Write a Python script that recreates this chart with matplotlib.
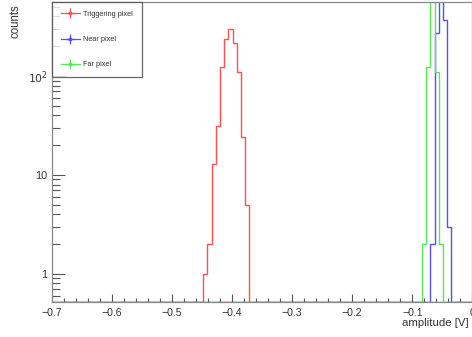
import numpy as np
import matplotlib
matplotlib.use('Agg')
import matplotlib.pyplot as plt
from matplotlib.lines import Line2D
from matplotlib.legend_handler import HandlerTuple
from matplotlib.ticker import MultipleLocator, LogLocator, FuncFormatter, NullFormatter

# histograma de amplitudes, 100 bins entre -0.7 y 0 V
bin_lo, bin_hi, n_bins = -0.7, 0.0, 100

red_first = 36
red_vals = [1, 2, 13, 31, 124, 235, 296, 216, 110, 24, 5]
blue_first = 90
blue_vals = [2, 270, 900, 370, 3]
green_first = 88
green_vals = [2, 124, 900, 110, 2]

labels = ['Triggering pixel', 'Near pixel', 'Far pixel']
colors = ['#ff5050', '#5050ff', '#55e855']

y_min, y_max = 0.52, 560

plt.rcParams['font.family'] = ['Liberation Sans', 'DejaVu Sans']

edges = np.linspace(bin_lo, bin_hi, n_bins + 1)


def full_counts(first, vals):
    c = np.zeros(n_bins)
    c[first:first + len(vals)] = vals
    return np.clip(c, y_min, None)


fig = plt.figure(figsize=(4.72, 3.37), dpi=100)
ax = fig.add_axes([0.1095, 0.104, 0.8915, 0.890])
ax.set_yscale('log')

hists = [(red_first, red_vals), (blue_first, blue_vals), (green_first, green_vals)]
for (first, vals), col in zip(hists, colors):
    ax.stairs(full_counts(first, vals), edges, baseline=None, color=col, lw=1.0)

ax.set_xlim(bin_lo, bin_hi)
ax.set_ylim(y_min, y_max)

ax.xaxis.set_major_locator(MultipleLocator(0.1))
ax.xaxis.set_minor_locator(MultipleLocator(0.02))
ax.xaxis.set_major_formatter(FuncFormatter(lambda v, p: '0' if abs(v) < 1e-9 else ('%.1f' % v).replace('-', '\u2212')))
ax.yaxis.set_major_locator(LogLocator(base=10, numticks=10))
ax.yaxis.set_minor_locator(LogLocator(base=10, subs=np.arange(2, 10), numticks=10))
ax.yaxis.set_minor_formatter(NullFormatter())
ax.yaxis.set_major_formatter(FuncFormatter(
    lambda v, p: {1: '1', 10: '10'}.get(int(round(v)), r'$10^{%d}$' % int(round(np.log10(v))))))

ax.tick_params(axis='x', which='major', direction='in', length=6, width=0.8, color='#555555',
               labelsize=7.6, pad=4, labelcolor='#333333')
ax.tick_params(axis='x', which='minor', direction='in', length=3, width=0.8, color='#555555')
ax.tick_params(axis='y', which='major', direction='in', length=9, width=0.8, color='#555555',
               labelsize=7.8, pad=3, labelcolor='#333333')
ax.tick_params(axis='y', which='minor', direction='in', length=5.5, width=0.8, color='#555555')

for s in ax.spines.values():
    s.set_color('#888888')
    s.set_linewidth(0.9)

ax.set_xlabel('amplitude [V]', fontsize=8.2, color='#333333', ha='right')
ax.xaxis.set_label_coords(0.99, -0.055)
ax.set_ylabel('counts', fontsize=8.3, color='#333333', ha='right')
ax.yaxis.set_label_coords(-0.071, 0.993)

handles = []
for col in colors:
    h1 = Line2D([], [], color=col, lw=0.9, marker='+', markersize=7, markeredgewidth=0.9)
    h2 = Line2D([], [], color=col, lw=0, marker='o', markersize=1.8)
    handles.append((h1, h2))
leg = ax.legend(handles, labels, loc='upper left', bbox_to_anchor=(0, 1), borderaxespad=0,
                fontsize=5.3, frameon=True, fancybox=False, edgecolor='#444444',
                handlelength=2.6, handletextpad=0.5, labelspacing=2.45, borderpad=1.2,
                handler_map={tuple: HandlerTuple(ndivide=1)})
leg.get_frame().set_linewidth(0.9)
for t in leg.get_texts():
    t.set_color('#333333')

fig.savefig('out.png', dpi=100)
